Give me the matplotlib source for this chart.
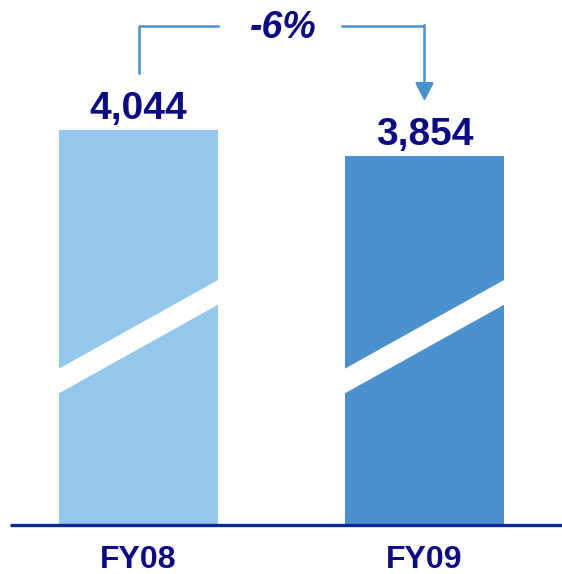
import matplotlib
matplotlib.use("Agg")
import matplotlib.pyplot as plt
from matplotlib.patches import Polygon

years = ["FY08", "FY09"]
values = [4044, 3854]
change_label = "-6%"

LIGHT, DARK, NAVY, AXIS = "#93C8EC", "#4A91CE", "#0A0A82", "#0B2A98"
plt.rcParams["font.family"] = ["Liberation Sans", "DejaVu Sans"]

fig = plt.figure(figsize=(5.62, 5.74), dpi=100)
ax = fig.add_axes([0, 49 / 574, 1, 525 / 574])
ybot = 1160
ax.set_xlim(-0.4843, 1.4808)
ax.set_ylim(ybot, 4993)
for s in ax.spines.values():
    s.set_visible(False)
ax.set_yticks([])

x = list(range(len(values)))
w = 0.556
ax.bar(x, [v - ybot for v in values], w, bottom=ybot, color=[LIGHT, DARK], zorder=2)

# white diagonal break band across each bar
lo, rise, thick = 2110, 670, 180
for xi in x:
    l, r = xi - w / 2 - 0.01, xi + w / 2 + 0.01
    ax.add_patch(Polygon([(l, lo), (r, lo + rise), (r, lo + rise + thick), (l, lo + thick)],
                         closed=True, fc="white", ec="none", zorder=3))

# baseline
ax.plot([-0.45, 1.4808], [ybot, ybot], color=AXIS, lw=2.4, solid_capstyle="butt",
        clip_on=False, zorder=4)

# value labels
for xi, v in zip(x, values):
    ax.text(xi, v + 150, f"{v:,}", ha="center", va="center", fontsize=28,
            fontweight="bold", color=NAVY)

# category labels
ax.set_xticks(x)
ax.set_xticklabels(years, fontsize=23, fontweight="bold", color=NAVY)
ax.tick_params(axis="x", length=0, pad=14.5)

# change bracket
top = 4803
ax.plot([0, 0, 0.278], [values[0] + 416, top, top], color=DARK, lw=1.8)
ax.plot([0.708, 1], [top, top], color=DARK, lw=1.8, solid_capstyle="butt")
ax.annotate("", xy=(1, values[1] + 400), xytext=(1, top + 6),
            arrowprops=dict(arrowstyle="-|>,head_length=0.55,head_width=0.28",
                            mutation_scale=20, color=DARK, lw=1.8,
                            shrinkA=0, shrinkB=0))
ax.text(0.505, top - 15, change_label, ha="center", va="center", fontsize=27,
        fontweight="bold", fontstyle="italic", color=NAVY)

fig.savefig("out.png", dpi=100)
